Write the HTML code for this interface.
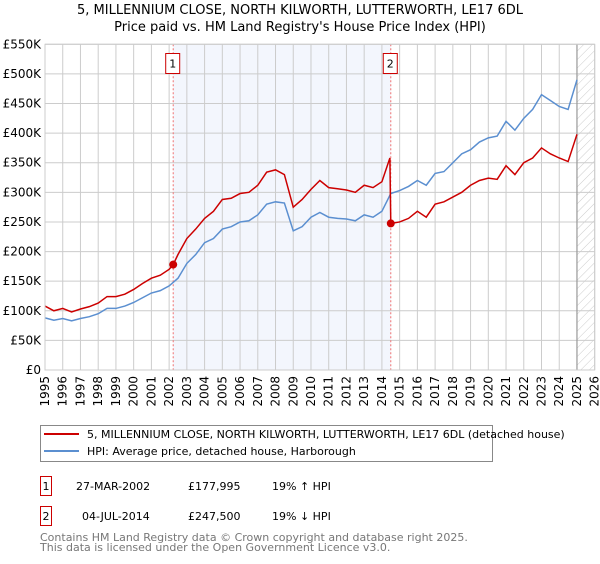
<!DOCTYPE html>
<html><head><meta charset="utf-8"><style>
body{margin:0;background:#fff;font-family:"DejaVu Sans","Liberation Sans",sans-serif;}
svg text{font-family:"DejaVu Sans","Liberation Sans",sans-serif;}
</style></head><body>
<svg id="c" width="600" height="560" xmlns="http://www.w3.org/2000/svg">
<defs><pattern id="hatch" width="6" height="6" patternUnits="userSpaceOnUse" patternTransform="rotate(45)"><line x1="0" y1="0" x2="0" y2="6" stroke="#ccc" stroke-width="1"/></pattern></defs>
<text x="300" y="14" text-anchor="middle" font-size="13" fill="#000">5, MILLENNIUM CLOSE, NORTH KILWORTH, LUTTERWORTH, LE17 6DL</text>
<text x="300" y="31" text-anchor="middle" font-size="13" fill="#000">Price paid vs. HM Land Registry's House Price Index (HPI)</text>
<g id="plot"></g>
<g>
<rect x="40.5" y="425.5" width="452" height="36" fill="#fff" stroke="#888"/>
<line x1="44" y1="434" x2="79" y2="434" stroke="#cc0000" stroke-width="2"/>
<text x="87" y="438" font-size="11">5, MILLENNIUM CLOSE, NORTH KILWORTH, LUTTERWORTH, LE17 6DL (detached house)</text>
<line x1="44" y1="451" x2="79" y2="451" stroke="#5b8fd0" stroke-width="2"/>
<text x="87" y="455" font-size="11">HPI: Average price, detached house, Harborough</text>
</g>
<g font-size="11">
<rect x="40.5" y="476.5" width="11" height="19" fill="#fff" stroke="#cc0000"/>
<text x="46" y="490" text-anchor="middle">1</text>
<text x="76" y="490">27-MAR-2002</text>
<text x="188" y="490">£177,995</text>
<text x="272" y="490">19% ↑ HPI</text>
</g>
<g font-size="11">
<rect x="40.5" y="506.5" width="11" height="19" fill="#fff" stroke="#cc0000"/>
<text x="46" y="520" text-anchor="middle">2</text>
<text x="82" y="520">04-JUL-2014</text>
<text x="188" y="520">£247,500</text>
<text x="272" y="520">19% ↓ HPI</text>
</g>
<text x="40" y="541" font-size="11" fill="#777">Contains HM Land Registry data © Crown copyright and database right 2025.</text>
<text x="40" y="551" font-size="11" fill="#777">This data is licensed under the Open Government Licence v3.0.</text>
</svg>
<script>
const years=[1995,1995.5,1996,1996.5,1997,1997.5,1998,1998.5,1999,1999.5,2000,2000.5,2001,2001.5,2002,2002.5,2003,2003.5,2004,2004.5,2005,2005.5,2006,2006.5,2007,2007.5,2008,2008.5,2009,2009.5,2010,2010.5,2011,2011.5,2012,2012.5,2013,2013.5,2014,2014.5,2015,2015.5,2016,2016.5,2017,2017.5,2018,2018.5,2019,2019.5,2020,2020.5,2021,2021.5,2022,2022.5,2023,2023.5,2024,2024.5,2025];
const hpi=[88,84,87,83,87,90,95,104,104,108,114,122,130,134,142,155,180,195,215,222,238,242,250,252,262,280,284,282,235,242,258,266,258,256,255,252,262,258,268,298,303,310,320,312,332,335,350,365,372,385,392,395,420,405,425,440,465,455,445,440,490];
const redYears=[1995,1995.5,1996,1996.5,1997,1997.5,1998,1998.5,1999,1999.5,2000,2000.5,2001,2001.5,2002,2002.23,2002.5,2003,2003.5,2004,2004.5,2005,2005.5,2006,2006.5,2007,2007.5,2008,2008.5,2009,2009.5,2010,2010.5,2011,2011.5,2012,2012.5,2013,2013.5,2014,2014.45,2014.5,2015,2015.5,2016,2016.5,2017,2017.5,2018,2018.5,2019,2019.5,2020,2020.5,2021,2021.5,2022,2022.5,2023,2023.5,2024,2024.5,2025];
const redVals=[108,100,104,98,103,107,113,124,124,128,136,146,155,160,170,178,195,222,238,256,268,288,290,298,300,312,334,338,330,275,288,305,320,308,306,304,300,312,308,318,358,247.5,250,256,268,258,280,284,292,300,312,320,324,322,345,330,350,358,375,365,358,352,398];
const saleYears=[2002.23,2014.5];
const saleVals=[177.995,247.5];
const saleLabels=["1","2"];
const yTicks=[0,50,100,150,200,250,300,350,400,450,500,550];
const yTickLabels=["£0","£50K","£100K","£150K","£200K","£250K","£300K","£350K","£400K","£450K","£500K","£550K"];
const xTicks=[1995,1996,1997,1998,1999,2000,2001,2002,2003,2004,2005,2006,2007,2008,2009,2010,2011,2012,2013,2014,2015,2016,2017,2018,2019,2020,2021,2022,2023,2024,2025,2026];

const L=45,R=594.7,T=44.3,B=370,X0=1995,X1=2026,YMAX=550;
const sx=v=>L+(v-X0)/(X1-X0)*(R-L);
const sy=v=>B-v/YMAX*(B-T);
const NS="http://www.w3.org/2000/svg";
const g=document.getElementById('plot');
function mk(t,a){const e=document.createElementNS(NS,t);for(const k in a)e.setAttribute(k,a[k]);g.appendChild(e);return e;}
let e;
e=mk('rect',{x:sx(saleYears[0]),y:T,width:sx(saleYears[1])-sx(saleYears[0]),height:B-T,fill:'#f3f6fd'});


e=mk('rect',{x:sx(2025),y:T,width:R-sx(2025),height:B-T,fill:'url(#hatch)'});


yTicks.forEach((v,i)=>{
 e=mk('line',{x1:L,x2:R,y1:sy(v),y2:sy(v),stroke:'#ccc','stroke-width':1});
 
 
 e=mk('text',{x:L-4,y:sy(v)+4,'text-anchor':'end','font-size':12,fill:'#000'});
 e.textContent=yTickLabels[i];
 
 
});
xTicks.forEach(v=>{
 e=mk('line',{x1:sx(v),x2:sx(v),y1:T,y2:B,stroke:'#ccc','stroke-width':1});
 
 
 e=mk('text',{x:0,y:0,'font-size':12,'text-anchor':'end',transform:`translate(${sx(v)+4},${B+6}) rotate(-90)`});
 e.textContent=String(v);
 
 
});
e=mk('line',{x1:sx(2025),x2:sx(2025),y1:T,y2:B,stroke:'#999','stroke-width':1.2});


saleYears.forEach((y,i)=>{
 e=mk('line',{x1:sx(y),x2:sx(y),y1:T,y2:B,stroke:'#f07070','stroke-width':1,'stroke-dasharray':'2,2'});
 
 
 e=mk('rect',{x:sx(y)-7.5,y:53.5,width:14,height:20,fill:'#fff',stroke:'#cc0000'});
 
 
 e=mk('text',{x:sx(y)-0.5,y:67.5,'text-anchor':'middle','font-size':11});
 e.textContent=saleLabels[i];
 
 
});
e=mk('polyline',{points:years.map((y,i)=>sx(y)+','+sy(hpi[i])).join(' '),fill:'none',stroke:'#5b8fd0','stroke-width':1.5});


e=mk('polyline',{points:redYears.map((y,i)=>sx(y)+','+sy(redVals[i])).join(' '),fill:'none',stroke:'#cc0000','stroke-width':1.5});


saleYears.forEach((y,i)=>{
 e=mk('circle',{cx:sx(y),cy:sy(saleVals[i]),r:4,fill:'#cc0000'});
 
 
});
e=mk('rect',{x:L,y:T,width:R-L,height:B-T,fill:'none',stroke:'#ccc'});


</script>
</body></html>
